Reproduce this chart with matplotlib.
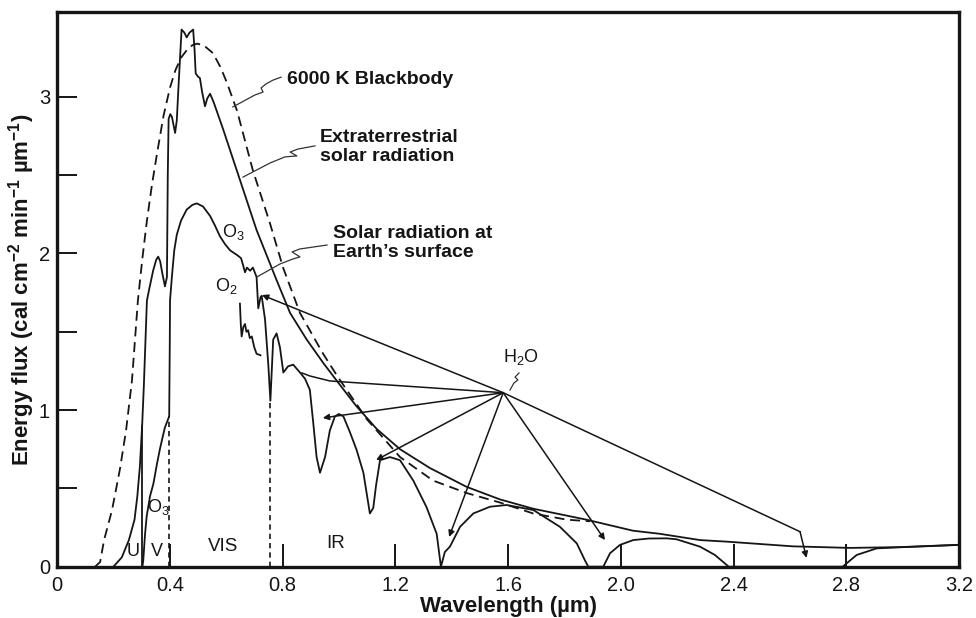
import matplotlib
matplotlib.use("Agg")
import matplotlib.pyplot as plt

plt.rcParams['mathtext.fontset'] = 'custom'
plt.rcParams['mathtext.rm'] = 'Liberation Sans'
plt.rcParams['mathtext.it'] = 'Liberation Sans:italic'
plt.rcParams['mathtext.bf'] = 'Liberation Sans:bold'
plt.rcParams['mathtext.default'] = 'regular'
plt.rcParams['font.family'] = ['Liberation Sans', 'DejaVu Sans']

# ---------------- data (wavelength in um, flux in cal cm-2 min-1 um-1) -------------
bb_wl = [0.135, 0.153, 0.167, 0.195, 0.223, 0.245, 0.266, 0.287, 0.303, 0.319, 0.337,
         0.355, 0.378, 0.401, 0.420, 0.440, 0.461, 0.480, 0.497, 0.520, 0.553, 0.580,
         0.603, 0.639, 0.695, 0.756, 0.802, 0.862, 0.944, 0.997,
         1.100, 1.217, 1.334, 1.454, 1.571, 1.689, 1.809, 1.891]
bb_flux = [0.00, 0.03, 0.17, 0.36, 0.62, 0.87, 1.19, 1.70, 1.97, 2.21, 2.44,
           2.64, 2.88, 3.06, 3.17, 3.25, 3.30, 3.33, 3.34, 3.33, 3.28, 3.19,
           3.09, 2.91, 2.53, 2.19, 1.91, 1.62, 1.36, 1.21,
           0.94, 0.70, 0.55, 0.47, 0.41, 0.34, 0.30, 0.29]

et_wl = [0.200, 0.230, 0.255, 0.275, 0.285, 0.294, 0.302, 0.308, 0.314, 0.319, 0.328,
         0.341, 0.352, 0.359, 0.366, 0.374, 0.383, 0.390, 0.393, 0.396, 0.402, 0.408,
         0.419, 0.425, 0.432, 0.442, 0.452, 0.460, 0.470, 0.483, 0.488, 0.492, 0.500,
         0.507, 0.515, 0.525, 0.533, 0.543, 0.555, 0.590, 0.649, 0.708, 0.779, 0.827,
         0.886, 0.945, 1.000, 1.060, 1.134, 1.217, 1.323, 1.453, 1.571, 1.690, 1.879,
         2.043, 2.139, 2.281, 2.376, 2.611, 2.813, 2.990, 3.200]
et_flux = [0.00, 0.06, 0.17, 0.30, 0.45, 0.64, 0.90, 1.15, 1.45, 1.70, 1.78,
           1.89, 1.96, 1.98, 1.95, 1.87, 1.79, 1.85, 2.50, 2.86, 2.89, 2.87,
           2.77, 2.85, 3.10, 3.43, 3.41, 3.38, 3.41, 3.43, 3.30, 3.15, 3.13,
           3.12, 3.03, 2.94, 2.99, 3.02, 2.97, 2.79, 2.47, 2.15, 1.83, 1.62,
           1.45, 1.30, 1.17, 1.03, 0.88, 0.75, 0.63, 0.51, 0.43, 0.37, 0.30,
           0.23, 0.21, 0.17, 0.16, 0.13, 0.12, 0.125, 0.14]

sf_wl = [0.303, 0.306, 0.312, 0.318, 0.330, 0.342, 0.355, 0.365, 0.375, 0.383, 0.398,
         0.400, 0.401, 0.408, 0.416, 0.425, 0.440, 0.460, 0.480, 0.496, 0.518, 0.543,
         0.560, 0.578, 0.596, 0.614, 0.639, 0.653, 0.661, 0.667, 0.674, 0.685, 0.695,
         0.708, 0.714, 0.722, 0.726, 0.738, 0.750, 0.757, 0.767, 0.779, 0.791, 0.803,
         0.820, 0.838, 0.862, 0.880, 0.897, 0.909, 0.921, 0.933, 0.951, 0.968, 0.986,
         1.000, 1.016, 1.039, 1.063, 1.087, 1.110, 1.122, 1.132, 1.146, 1.181, 1.217,
         1.264, 1.311, 1.347, 1.362, 1.376, 1.394, 1.430, 1.477, 1.536, 1.595, 1.690,
         1.784, 1.844, 1.873, 1.885, 1.938, 1.962, 1.997, 2.044, 2.100, 2.163, 2.198,
         2.281, 2.334, 2.383, 2.787, 2.837, 2.908, 2.990, 3.200]
sf_flux = [0.00, 0.04, 0.20, 0.32, 0.45, 0.53, 0.66, 0.75, 0.83, 0.89, 0.96,
           1.40, 1.70, 1.86, 2.02, 2.12, 2.21, 2.28, 2.31, 2.32, 2.30, 2.24,
           2.18, 2.11, 2.06, 2.02, 1.99, 1.97, 1.92, 1.88, 1.91, 1.89, 1.91,
           1.85, 1.65, 1.72, 1.73, 1.58, 1.28, 1.06, 1.45, 1.49, 1.40, 1.24,
           1.28, 1.29, 1.24, 1.20, 1.13, 0.92, 0.70, 0.60, 0.70, 0.87, 0.96,
           0.975, 0.96, 0.86, 0.745, 0.60, 0.34, 0.375, 0.52, 0.68, 0.70, 0.68,
           0.55, 0.38, 0.21, 0.00, 0.094, 0.128, 0.255, 0.34, 0.383, 0.394, 0.362,
           0.255, 0.149, 0.04, 0.00, 0.00, 0.086, 0.139, 0.170, 0.180, 0.181, 0.175,
           0.128, 0.075, 0.00, 0.00, 0.075, 0.117, 0.124, 0.139]

# secondary trace of the O2 / H2O band near 0.65-0.72 um
sf2_wl = [0.649, 0.652, 0.655, 0.661, 0.667, 0.672, 0.678, 0.684, 0.691, 0.700, 0.708, 0.722]
sf2_flux = [1.68, 1.55, 1.47, 1.53, 1.55, 1.50, 1.51, 1.46, 1.47, 1.40, 1.36, 1.35]

# band boundaries
uv_edge_wl, uv_edge_top = 0.302, 0.90
band_bound_wl = [0.398, 0.757]
band_bound_top = [0.96, 1.06]

# H2O absorption arrows: source point and targets
h2o_src = (1.583, 1.111)
h2o_arrow_wl = [0.727, 0.943, 1.132, 1.391, 1.944]
h2o_arrow_flux = [1.735, 0.950, 0.681, 0.190, 0.170]
h2o_line_wl = [0.968, 0.897, 0.869]          # plain line to 0.85 um peak
h2o_line_flux = [1.186, 1.218, 1.237]
h2o_bend = (2.636, 0.2235)                    # bent arrow to 2.7 um band
h2o_bend_tip = (2.659, 0.056)

# label leader lines
bb_ptr_wl = [0.624, 0.702, 0.731, 0.724, 0.741, 0.766, 0.795]
bb_ptr_fl = [2.936, 3.012, 3.031, 3.057, 3.082, 3.107, 3.126]
et_ptr_wl = [0.660, 0.756, 0.809, 0.851, 0.827, 0.855, 0.915]
et_ptr_fl = [2.488, 2.578, 2.617, 2.623, 2.648, 2.667, 2.687]
sf_ptr_wl = [0.709, 0.791, 0.837, 0.862, 0.834, 0.862, 0.958]
sf_ptr_fl = [1.850, 1.933, 1.965, 1.978, 2.010, 2.029, 2.054]
h2o_ptr_wl = [1.607, 1.621, 1.635, 1.625, 1.639]
h2o_ptr_fl = [1.128, 1.173, 1.192, 1.211, 1.237]

x_ticks = [0, 0.4, 0.8, 1.2, 1.6, 2.0, 2.4, 2.8, 3.2]
x_ticklabels = ['0', '0.4', '0.8', '1.2', '1.6', '2.0', '2.4', '2.8', '3.2']
y_ticks = [0, 0.5, 1, 1.5, 2, 2.5, 3]
y_ticklabels = ['0', '', '1', '', '2', '', '3']

# ---------------- figure -----------------
INK = '#151515'

fig = plt.figure(figsize=(9.76, 6.18), dpi=100)
ax = fig.add_axes([57 / 976, 51.3 / 618, 902 / 976, 555 / 618])
ax.set_xlim(0, 3.2)
ax.set_ylim(0, 3.544)

lw = 1.3
ax.plot(bb_wl, bb_flux, color=INK, lw=lw, dashes=(5.5, 3.2))
ax.plot(et_wl, et_flux, color=INK, lw=lw)
ax.plot(sf_wl, sf_flux, color=INK, lw=lw)
ax.plot(sf2_wl, sf2_flux, color=INK, lw=lw)

ax.plot([uv_edge_wl, uv_edge_wl], [0, uv_edge_top], color=INK, lw=lw)
for wl, top in zip(band_bound_wl, band_bound_top):
    ax.plot([wl, wl], [0, top], color=INK, lw=1.2, dashes=(3.2, 2.4))

arrow_kw = dict(arrowstyle='-|>', color=INK, lw=1.1, mutation_scale=9,
                shrinkA=0, shrinkB=0)
for wl, fl in zip(h2o_arrow_wl, h2o_arrow_flux):
    ax.annotate('', xy=(wl, fl), xytext=h2o_src, arrowprops=arrow_kw)
ax.plot([h2o_src[0]] + h2o_line_wl, [h2o_src[1]] + h2o_line_flux, color=INK, lw=1.1)
ax.plot([h2o_src[0], h2o_bend[0]], [h2o_src[1], h2o_bend[1]], color=INK, lw=1.1)
ax.annotate('', xy=h2o_bend_tip, xytext=h2o_bend, arrowprops=arrow_kw)

for xs, ys in [(bb_ptr_wl, bb_ptr_fl), (et_ptr_wl, et_ptr_fl),
               (sf_ptr_wl, sf_ptr_fl), (h2o_ptr_wl, h2o_ptr_fl)]:
    ax.plot(xs, ys, color='#333333', lw=0.9)

# ---------------- text -----------------
lab_kw = dict(fontsize=14, fontweight='bold', color=INK, ha='left', va='center',
              linespacing=1.15)
ax.text(0.816, 3.113, '6000 K Blackbody', **lab_kw)
ax.text(0.933, 2.683, 'Extraterrestrial\nsolar radiation', **lab_kw)
ax.text(0.979, 2.070, 'Solar radiation at\nEarth\u2019s surface', **lab_kw)

small_kw = dict(fontsize=13, color=INK, ha='center', va='center')
ax.text(0.624, 2.136, 'O$_3$', **small_kw)
ax.text(0.600, 1.790, 'O$_2$', **small_kw)
ax.text(0.358, 0.381, 'O$_3$', **small_kw)
ax.text(1.646, 1.339, 'H$_2$O', **small_kw)
ax.text(0.270, 0.094, 'U', **small_kw)
ax.text(0.355, 0.094, 'V', **small_kw)
ax.text(0.589, 0.132, 'VIS', fontsize=13.5, color=INK, ha='center', va='center')
ax.text(0.990, 0.145, 'IR', fontsize=13.5, color=INK, ha='center', va='center')

# ---------------- axes styling -----------------
for s in ax.spines.values():
    s.set_linewidth(2.4)
    s.set_color(INK)

ax.set_xticks(x_ticks)
ax.set_xticklabels(x_ticklabels)
ax.set_yticks(y_ticks)
ax.set_yticklabels(y_ticklabels)
ax.tick_params(axis='x', direction='in', length=16.5, width=1.4, pad=6.5, colors=INK,
               labelsize=14.5)
ax.tick_params(axis='y', direction='in', length=14.4, width=1.4, pad=5, colors=INK,
               labelsize=14.5)

ax.set_xlabel('Wavelength (\u00b5m)', fontsize=16, fontweight='bold', color=INK)
ax.set_ylabel('Energy flux (cal cm$^{-2}$ min$^{-1}$ \u00b5m$^{-1}$)', fontsize=16,
              fontweight='bold', color=INK)
ax.xaxis.set_label_coords(0.5, -0.052)
ax.yaxis.set_label_coords(-0.022, 0.499)

fig.savefig('out.png', dpi=100)
